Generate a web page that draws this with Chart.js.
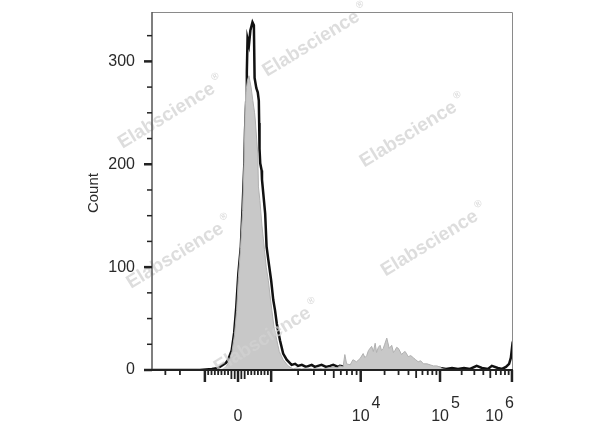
<!DOCTYPE html>
<html>
<head>
<meta charset="utf-8">
<script src="https://cdn.jsdelivr.net/npm/chart.js@4.4.1/dist/chart.umd.min.js"></script>
<style>
    html, body { margin: 0; padding: 0; background: #fff; }
</style>
</head>
<body>
<canvas id="lienzoHistograma" width="600" height="427"></canvas>
<script>
// display channel (0-1024, biexponential) and event counts
const blackChannel = [0, 136, 170, 187, 201, 210, 216, 226, 233, 239, 245, 252, 257, 262, 264, 267, 269, 271, 275, 279, 285, 289, 291, 296, 300, 303, 304, 305, 307, 311, 312, 321, 325, 330, 338, 344, 349, 354, 363, 372, 382, 396, 406, 414, 425, 437, 453, 462, 471, 481, 494, 505, 514, 528, 533, 550, 562, 573, 584, 596, 609, 618, 628, 641, 647, 664, 675, 694, 709, 720, 732, 743, 755, 766, 777, 789, 800, 817, 834, 851, 868, 885, 902, 921, 936, 953, 964, 981, 993, 1004, 1013, 1018, 1021, 1024];
const blackCount   = [0, 0, 1, 2, 5, 7, 10, 19, 36, 61, 94, 120, 158, 201, 233, 260, 290, 322, 316, 330, 338, 335, 284, 274, 270, 262, 240, 215, 201, 194, 185, 152, 120, 107, 87, 68, 58, 45, 29, 16, 10, 5, 6, 4, 5, 3, 5, 3, 4, 5, 3, 4, 5, 3, 4, 3, 4, 2, 3, 4, 5, 3, 5, 3, 4, 3, 2, 4, 2, 3, 2, 3, 4, 2, 3, 2, 2, 2, 1, 2, 1, 2, 1, 4, 2, 1, 4, 2, 1, 3, 6, 12, 21, 16];

const grayChannel = [199, 210, 218, 227, 234, 240, 245, 251, 257, 261, 264, 267, 271, 275, 281, 286, 291, 293, 300, 302, 306, 312, 319, 324, 330, 335, 340, 346, 354, 361, 372, 386, 400, 410, 425, 440, 455, 470, 485, 500, 515, 525, 533, 542, 547, 552, 562, 570, 580, 590, 599, 604, 609, 614, 623, 628, 633, 637, 642, 647, 651, 656, 660, 666, 673, 680, 685, 689, 694, 699, 708, 713, 718, 727, 734, 741, 748, 755, 762, 770, 780, 789, 798, 808, 816, 825, 845, 1024];
const grayCount   = [0, 3, 8, 18, 34, 58, 90, 118, 155, 200, 250, 272, 282, 286, 275, 262, 250, 243, 210, 178, 165, 140, 117, 100, 87, 72, 58, 42, 29, 18, 10, 4, 1, 2, 1, 2, 1, 2, 1, 2, 3, 2, 4, 3, 15, 6, 5, 10, 8, 11, 16, 12, 14, 19, 23, 18, 26, 17, 22, 24, 19, 21, 25, 31, 21, 24, 17, 19, 22, 21, 15, 17, 18, 13, 14, 12, 10, 8, 9, 6, 6, 5, 4, 4, 3, 1, 0, 0];

// axis definition
const countMax = 348;
const channelMax = 1024;
const decadeValues = [1e3, 1e4, 1e5, 1e6];
const decadeChannels = [338, 592, 817, 1021];
const zeroChannel = 244;
const yMajorTicks = [0, 100, 200, 300];
const yMinorTicks = [25, 50, 75, 125, 150, 175, 225, 250, 275, 325];
const xLabelValues = [0, 1e4, 1e5, 1e6];
const xLabelBase = ["0", "10", "10", "10"];
const xLabelPower = ["", "4", "5", "6"];
const xMajorValues = [-1000, 0, 1000, 1e4, 1e5, 1e6];
const xNegativeMinor = [-2000, -3000];

const watermarkChannel = [466, 56, 742, 80, 802, 328];
const watermarkCount = [320, 250, 232, 114, 126, 32];

function aCanal(v) {
    if (Math.abs(v) <= 1000) {
        return zeroChannel + v * (decadeChannels[0] - zeroChannel) / 1000;
    }
    if (v < 0) {
        return 2 * zeroChannel - decadeChannels[0] - 235 * Math.log10(-v / 1000);
    }
    for (let i = 0; i < decadeValues.length - 1; i++) {
        if (v <= decadeValues[i + 1]) {
            const f = Math.log10(v / decadeValues[i]);
            return decadeChannels[i] + f * (decadeChannels[i + 1] - decadeChannels[i]);
        }
    }
    return decadeChannels[decadeChannels.length - 1];
}

function ticksMenores() {
    const lista = [];
    for (let v = -900; v <= 900; v += 100) {
        if (v !== 0) lista.push({ v, largo: Math.abs(v) <= 200 ? 9 : 5 });
    }
    xNegativeMinor.forEach((v) => lista.push({ v, largo: 5 }));
    for (let d = 0; d < decadeValues.length - 1; d++) {
        for (let k = 2; k <= 9; k++) {
            lista.push({ v: decadeValues[d] * k, largo: k === 5 ? 8 : 5 });
        }
    }
    return lista;
}

const pluginEjes = {
    id: "ejesCitometria",
    afterDatasetsDraw(chart) {
        const { ctx, chartArea: a, scales: { x, y } } = chart;
        ctx.save();

        // watermarks on top of the histograms
        ctx.font = "bold 19px 'Liberation Sans', Arial, sans-serif";
        ctx.fillStyle = "rgba(210,210,210,0.75)";
        ctx.textAlign = "center";
        ctx.textBaseline = "middle";
        watermarkChannel.forEach((c, i) => {
            ctx.save();
            ctx.translate(x.getPixelForValue(c), y.getPixelForValue(watermarkCount[i]));
            ctx.rotate(-31.5 * Math.PI / 180);
            ctx.fillText("Elabscience", -6, 0);
            ctx.font = "bold 10px 'Liberation Sans', Arial, sans-serif";
            ctx.fillText("®", 56, -8);
            ctx.restore();
        });

        // frame
        ctx.strokeStyle = "#8a8a8a";
        ctx.lineWidth = 1;
        ctx.beginPath();
        ctx.moveTo(a.left, a.top + 0.5);
        ctx.lineTo(a.right - 0.5, a.top + 0.5);
        ctx.lineTo(a.right - 0.5, a.bottom);
        ctx.stroke();

        ctx.strokeStyle = "#555";
        ctx.lineWidth = 1.5;
        ctx.beginPath();
        ctx.moveTo(a.left, a.top);
        ctx.lineTo(a.left, a.bottom + 1);
        ctx.stroke();

        ctx.strokeStyle = "#222";
        ctx.lineWidth = 2;
        ctx.beginPath();
        ctx.moveTo(a.left, a.bottom);
        ctx.lineTo(a.right, a.bottom);
        ctx.stroke();

        // y ticks
        ctx.strokeStyle = "#222";
        yMajorTicks.forEach((t) => {
            const py = y.getPixelForValue(t);
            ctx.lineWidth = 2.5;
            ctx.beginPath();
            ctx.moveTo(a.left - 8, py);
            ctx.lineTo(a.left, py);
            ctx.stroke();
        });
        yMinorTicks.forEach((t) => {
            const py = y.getPixelForValue(t);
            ctx.lineWidth = 1.5;
            ctx.beginPath();
            ctx.moveTo(a.left - 5, py);
            ctx.lineTo(a.left, py);
            ctx.stroke();
        });

        ctx.fillStyle = "#2a2a2a";
        ctx.font = "16px 'Liberation Sans', Arial, sans-serif";
        ctx.textAlign = "right";
        ctx.textBaseline = "middle";
        yMajorTicks.forEach((t) => {
            ctx.fillText(String(t), a.left - 17, y.getPixelForValue(t));
        });

        ctx.save();
        ctx.translate(a.left - 58, y.getPixelForValue(172));
        ctx.rotate(-Math.PI / 2);
        ctx.textAlign = "center";
        ctx.font = "15px 'Liberation Sans', Arial, sans-serif";
        ctx.fillText("Count", 0, 0);
        ctx.restore();

        // x ticks
        xMajorValues.forEach((v) => {
            const px = x.getPixelForValue(aCanal(v));
            ctx.lineWidth = 2.5;
            ctx.beginPath();
            ctx.moveTo(px, a.bottom);
            ctx.lineTo(px, a.bottom + 12);
            ctx.stroke();
        });
        ticksMenores().forEach((t) => {
            const px = x.getPixelForValue(aCanal(t.v));
            ctx.lineWidth = 1.8;
            ctx.beginPath();
            ctx.moveTo(px, a.bottom);
            ctx.lineTo(px, a.bottom + t.largo);
            ctx.stroke();
        });

        // x labels with superscript powers
        ctx.textAlign = "left";
        ctx.textBaseline = "alphabetic";
        ctx.font = "16px 'Liberation Sans', Arial, sans-serif";
        xLabelValues.forEach((v, i) => {
            const px = x.getPixelForValue(aCanal(v));
            const wBase = ctx.measureText(xLabelBase[i]).width;
            const wPow = xLabelPower[i] ? ctx.measureText(xLabelPower[i]).width + 2 : 0;
            let left = px - wBase / 2;
            if (left + wBase + wPow > a.right + 1) left = a.right + 1 - wBase - wPow;
            ctx.fillText(xLabelBase[i], left, a.bottom + 51);
            if (xLabelPower[i]) ctx.fillText(xLabelPower[i], left + wBase + 2, a.bottom + 38);
        });

        ctx.restore();
    }
};

const canvas = document.getElementById("lienzoHistograma");

new Chart(canvas.getContext("2d"), {
    type: "line",
    data: {
        datasets: [
            {
                data: grayChannel.map((c, i) => ({ x: c, y: grayCount[i] })),
                borderColor: "#b0b0b0",
                backgroundColor: "#c8c8c8",
                borderWidth: 1,
                fill: "origin",
                pointRadius: 0,
                tension: 0
            },
            {
                data: blackChannel.map((c, i) => ({ x: c, y: blackCount[i] })),
                borderColor: "#111",
                borderWidth: 2.5,
                fill: false,
                pointRadius: 0,
                tension: 0
            }
        ]
    },
    options: {
        responsive: false,
        animation: false,
        layout: { padding: { top: 12, right: 87, left: 0, bottom: 0 } },
        plugins: { legend: { display: false }, tooltip: { enabled: false } },
        scales: {
            x: {
                type: "linear",
                min: 0,
                max: channelMax,
                ticks: { display: false },
                grid: { display: false },
                border: { display: false },
                afterFit: (s) => { s.height = 57; }
            },
            y: {
                min: 0,
                max: countMax,
                ticks: { display: false },
                grid: { display: false },
                border: { display: false },
                afterFit: (s) => { s.width = 152; }
            }
        }
    },
    plugins: [pluginEjes]
});
</script>
</body>
</html>
